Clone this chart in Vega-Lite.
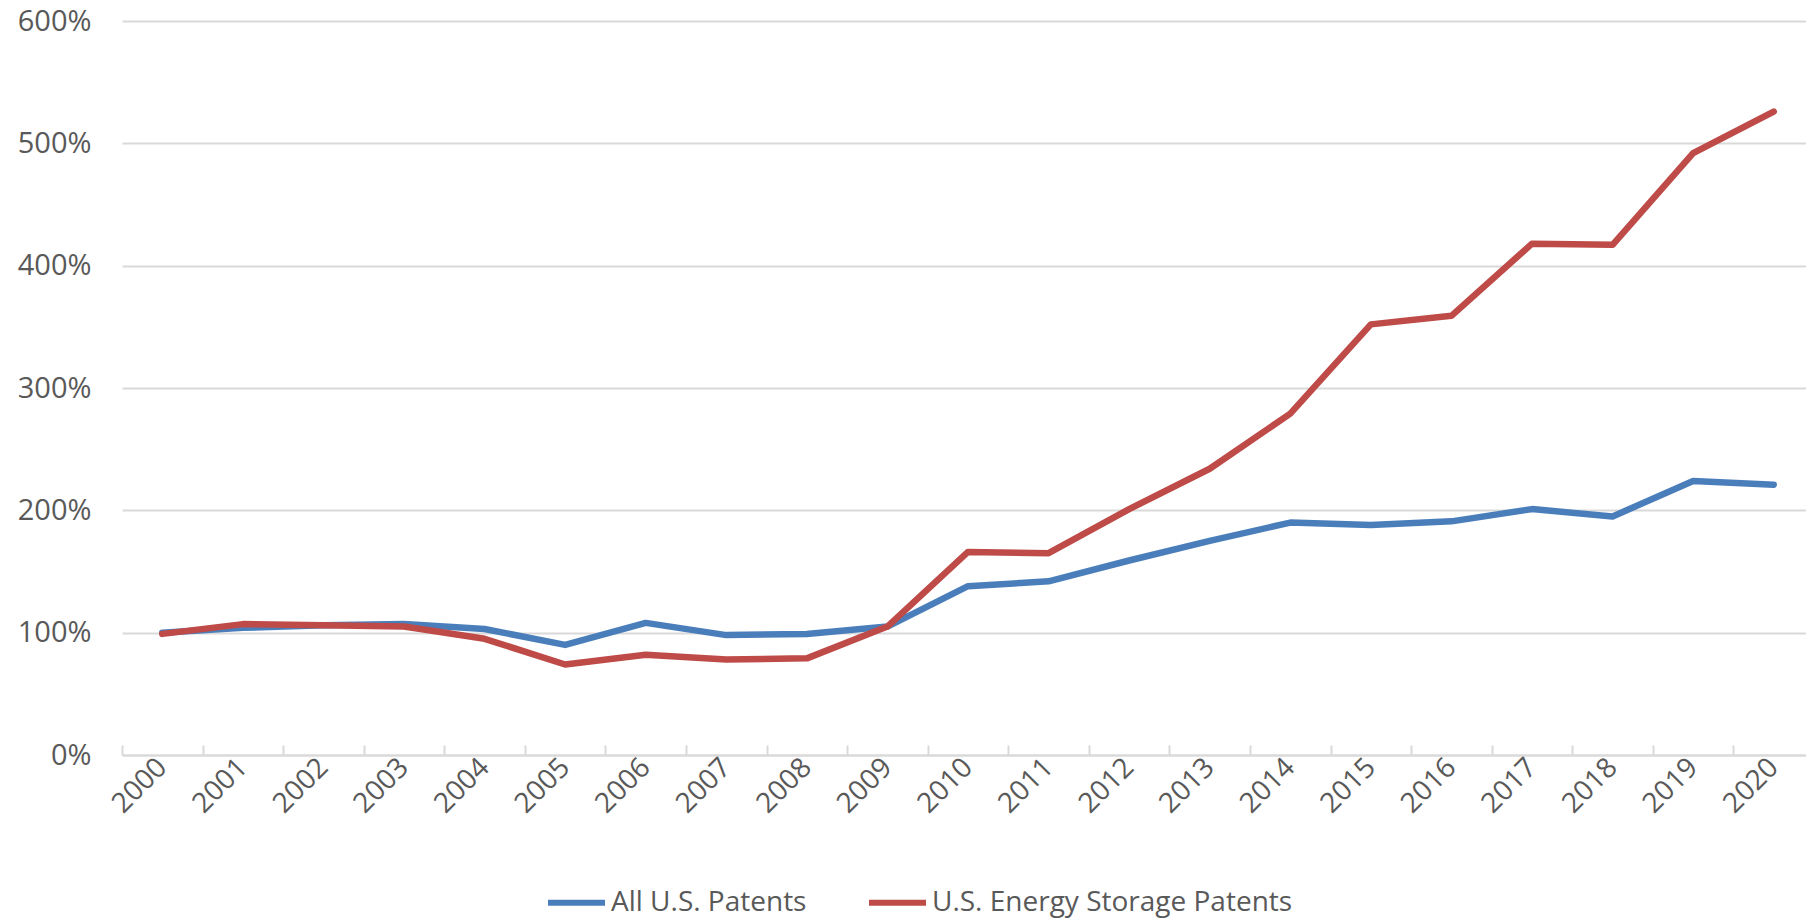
{
  "$schema": "https://vega.github.io/schema/vega-lite/v6.json",
  "width": 1692,
  "height": 734,
  "autosize": {"type": "none"},
  "padding": {"left": 122, "top": 21, "right": -8, "bottom": 166},
  "background": "white",
  "config": {
    "view": {"stroke": null},
    "font": "Open Sans"
  },
  "data": {
    "values": [
      {"year": "2000", "series": "All U.S. Patents", "value": 1.00},
      {"year": "2001", "series": "All U.S. Patents", "value": 1.04},
      {"year": "2002", "series": "All U.S. Patents", "value": 1.06},
      {"year": "2003", "series": "All U.S. Patents", "value": 1.07},
      {"year": "2004", "series": "All U.S. Patents", "value": 1.03},
      {"year": "2005", "series": "All U.S. Patents", "value": 0.90},
      {"year": "2006", "series": "All U.S. Patents", "value": 1.08},
      {"year": "2007", "series": "All U.S. Patents", "value": 0.98},
      {"year": "2008", "series": "All U.S. Patents", "value": 0.99},
      {"year": "2009", "series": "All U.S. Patents", "value": 1.05},
      {"year": "2010", "series": "All U.S. Patents", "value": 1.38},
      {"year": "2011", "series": "All U.S. Patents", "value": 1.42},
      {"year": "2012", "series": "All U.S. Patents", "value": 1.59},
      {"year": "2013", "series": "All U.S. Patents", "value": 1.75},
      {"year": "2014", "series": "All U.S. Patents", "value": 1.90},
      {"year": "2015", "series": "All U.S. Patents", "value": 1.88},
      {"year": "2016", "series": "All U.S. Patents", "value": 1.91},
      {"year": "2017", "series": "All U.S. Patents", "value": 2.01},
      {"year": "2018", "series": "All U.S. Patents", "value": 1.95},
      {"year": "2019", "series": "All U.S. Patents", "value": 2.24},
      {"year": "2020", "series": "All U.S. Patents", "value": 2.21},
      {"year": "2000", "series": "U.S. Energy Storage Patents", "value": 0.99},
      {"year": "2001", "series": "U.S. Energy Storage Patents", "value": 1.07},
      {"year": "2002", "series": "U.S. Energy Storage Patents", "value": 1.06},
      {"year": "2003", "series": "U.S. Energy Storage Patents", "value": 1.05},
      {"year": "2004", "series": "U.S. Energy Storage Patents", "value": 0.95},
      {"year": "2005", "series": "U.S. Energy Storage Patents", "value": 0.74},
      {"year": "2006", "series": "U.S. Energy Storage Patents", "value": 0.82},
      {"year": "2007", "series": "U.S. Energy Storage Patents", "value": 0.78},
      {"year": "2008", "series": "U.S. Energy Storage Patents", "value": 0.79},
      {"year": "2009", "series": "U.S. Energy Storage Patents", "value": 1.05},
      {"year": "2010", "series": "U.S. Energy Storage Patents", "value": 1.66},
      {"year": "2011", "series": "U.S. Energy Storage Patents", "value": 1.65},
      {"year": "2012", "series": "U.S. Energy Storage Patents", "value": 2.01},
      {"year": "2013", "series": "U.S. Energy Storage Patents", "value": 2.34},
      {"year": "2014", "series": "U.S. Energy Storage Patents", "value": 2.79},
      {"year": "2015", "series": "U.S. Energy Storage Patents", "value": 3.52},
      {"year": "2016", "series": "U.S. Energy Storage Patents", "value": 3.59},
      {"year": "2017", "series": "U.S. Energy Storage Patents", "value": 4.18},
      {"year": "2018", "series": "U.S. Energy Storage Patents", "value": 4.17},
      {"year": "2019", "series": "U.S. Energy Storage Patents", "value": 4.92},
      {"year": "2020", "series": "U.S. Energy Storage Patents", "value": 5.26}
    ]
  },
  "mark": {"type": "line", "strokeWidth": 6.5, "strokeCap": "round", "strokeJoin": "round"},
  "encoding": {
    "x": {
      "field": "year",
      "type": "ordinal",
      "bandPosition": 0.5,
      "scale": {"type": "band", "paddingInner": 0, "paddingOuter": 0},
      "axis": {
        "title": null,
        "labelAngle": -45,
        "labelAlign": "right",
        "labelBaseline": "middle",
        "labelFontSize": 28,
        "labelColor": "#595959",
        "labelPadding": 18,
        "tickBand": "extent",
        "tickSize": -10,
        "tickColor": "#d9d9d9",
        "tickWidth": 2,
        "domainColor": "#d9d9d9",
        "domainWidth": 2,
        "grid": false
      }
    },
    "y": {
      "field": "value",
      "type": "quantitative",
      "scale": {"domain": [0, 6], "nice": false},
      "axis": {
        "title": null,
        "values": [0, 1, 2, 3, 4, 5, 6],
        "format": ".0%",
        "labelFontSize": 29,
        "labelColor": "#595959",
        "labelPadding": 31,
        "ticks": false,
        "domain": false,
        "gridColor": "#d9d9d9",
        "gridWidth": 2
      }
    },
    "color": {
      "field": "series",
      "type": "nominal",
      "scale": {"domain": ["All U.S. Patents", "U.S. Energy Storage Patents"], "range": ["#4a7ebb", "#be4b48"]},
      "legend": {
        "title": null,
        "orient": "none",
        "legendX": 423,
        "legendY": 850,
        "direction": "horizontal",
        "symbolType": "stroke",
        "symbolSize": 3249,
        "symbolStrokeWidth": 6,
        "labelFontSize": 28,
        "labelColor": "#595959",
        "labelOffset": 3,
        "columnPadding": 50,
        "labelLimit": 600
      }
    }
  }
}
